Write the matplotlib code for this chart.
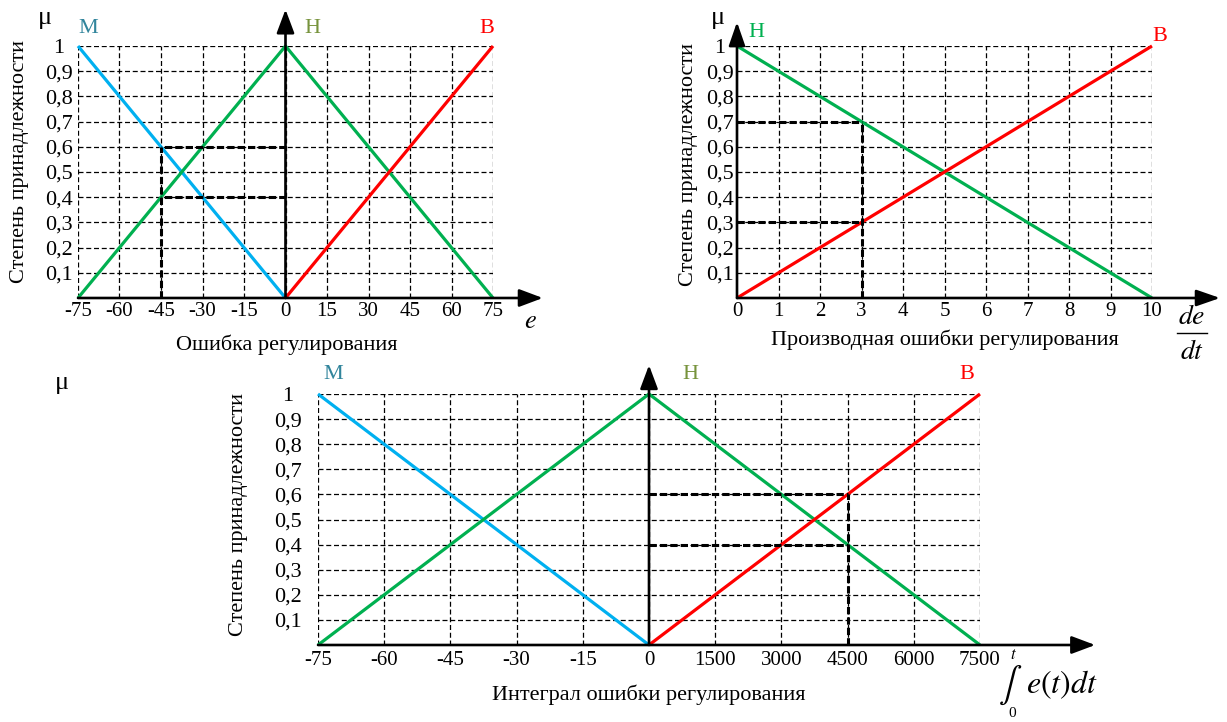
import numpy as np
import matplotlib
matplotlib.use("Agg")
from matplotlib import pyplot as plt

plt.rcParams['font.family'] = ['Liberation Serif', 'DejaVu Serif']
plt.rcParams['mathtext.fontset'] = 'stix'

BLUE = '#00b0f0'
GREEN = '#00b050'
RED = '#ff0000'
TEAL = '#31859c'
OLIVE = '#77933c'

# степень принадлежности
mu_ticks = [0.1, 0.2, 0.3, 0.4, 0.5, 0.6, 0.7, 0.8, 0.9, 1.0]
mu_labels = ['0,1', '0,2', '0,3', '0,4', '0,5', '0,6', '0,7', '0,8', '0,9', '1']

# ошибка регулирования e
e_ticks = [-75, -60, -45, -30, -15, 0, 15, 30, 45, 60, 75]
e_M = [-75, 0]
mu_e_M = [1, 0]
e_H = [-75, 0, 75]
mu_e_H = [0, 1, 0]
e_B = [0, 75]
mu_e_B = [0, 1]
e_probe = -45
e_levels = [0.6, 0.4]

# производная ошибки de/dt
de_ticks = [0, 1, 2, 3, 4, 5, 6, 7, 8, 9, 10]
de_H = [0, 10]
mu_de_H = [1, 0]
de_B = [0, 10]
mu_de_B = [0, 1]
de_probe = 3
de_levels = [0.7, 0.3]

# интеграл ошибки (разный масштаб слева и справа от нуля)
int_ticks = [-75, -60, -45, -30, -15, 0, 1500, 3000, 4500, 6000, 7500]
int_M = [-75, 0]
mu_int_M = [1, 0]
int_H = [-75, 0, 7500]
mu_int_H = [0, 1, 0]
int_B = [0, 7500]
mu_int_B = [0, 1]
int_probe = 4500
int_levels = [0.6, 0.4]

W, H = 1227, 722
fig = plt.figure(figsize=(W / 100, H / 100), dpi=100)

FS = 16


def px_axes(left, top, right, bottom):
    return fig.add_axes([left / W, 1 - bottom / H, (right - left) / W, (bottom - top) / H])


def to_u(x):
    x = np.asarray(x, dtype=float)
    return np.where(x <= 0, x / 15.0, x / 1500.0)


def frame(ax, xmin, xmax, grid_x, axis_x, tip_x, tip_y, xt, xtl, ypad, xpad, hw=0.27):
    ax.set_xlim(xmin, xmax)
    ax.set_ylim(0, 1)
    ax.set_frame_on(False)
    grid = dict(color='k', lw=0.9, linestyle=(0, (4, 2.2)), zorder=1)
    ax.vlines(grid_x, 0, 1, **grid)
    ax.hlines(mu_ticks, xmin, xmax, **grid)
    arrow = dict(arrowstyle=f'-|>,head_length=0.72,head_width={hw}', lw=1.9, color='k',
                 shrinkA=0, shrinkB=0, mutation_scale=20)
    ax.annotate('', xy=(tip_x, 0), xytext=(xmin, 0), arrowprops=arrow,
                annotation_clip=False, zorder=4)
    ax.annotate('', xy=(axis_x, tip_y), xytext=(axis_x, 0), arrowprops=arrow,
                annotation_clip=False, zorder=4)
    ax.set_yticks(mu_ticks)
    ax.set_yticklabels(mu_labels, fontsize=FS)
    for lab in ax.get_yticklabels():
        lab.set_ha('center')
    ax.set_xticks(xt)
    ax.set_xticklabels(xtl, fontsize=15)
    ax.tick_params(axis='y', length=0, pad=ypad)
    ax.tick_params(axis='x', length=0, pad=xpad)


def curve(ax, x, y, color):
    ax.plot(x, y, color=color, lw=2.3, clip_on=False, zorder=3, solid_capstyle='butt')


def probe(ax, x0, x1, levels):
    style = dict(color='k', lw=2.2, linestyle=(0, (2.4, 1.0)), zorder=5, clip_on=False)
    ax.plot([x1, x1], [0, max(levels)], **style)
    for lv in levels:
        ax.plot([x0, x1], [lv, lv], **style)


def note(ax, x, y, s, color='k', size=16, **kw):
    ax.text(x, y, s, color=color, fontsize=size, ha=kw.pop('ha', 'center'), va='center', **kw)


# --- Ошибка регулирования ---
ax1 = px_axes(78, 46, 493, 298)
frame(ax1, -75, 75, e_ticks, 0, 93, 1.145, e_ticks, [str(t) for t in e_ticks], 13.7, 3.0)
curve(ax1, e_M, mu_e_M, BLUE)
curve(ax1, e_H, mu_e_H, GREEN)
curve(ax1, e_B, mu_e_B, RED)
probe(ax1, 0, e_probe, e_levels)
note(ax1, -71.4, 1.07, 'M', TEAL)
note(ax1, 9.6, 1.07, 'H', OLIVE)
note(ax1, 72.8, 1.07, 'B', RED)
note(ax1, -87, 1.11, 'μ', size=19)
note(ax1, 88.4, -0.095, r'$e$', size=19)
note(ax1, 0.5, -0.187, 'Ошибка регулирования', size=FS)
note(ax1, -96, 0.54, 'Степень принадлежности', size=FS, rotation=90)

# --- Производная ошибки ---
ax2 = px_axes(737, 46, 1152, 298)
frame(ax2, 0, 10, de_ticks[1:], 0, 11.64, 1.095, de_ticks, [str(t) for t in de_ticks],
      12.2, 3.0, hw=0.25)
curve(ax2, de_H, mu_de_H, GREEN)
curve(ax2, de_B, mu_de_B, RED)
probe(ax2, 0, de_probe, de_levels)
note(ax2, 0.46, 1.052, 'H', GREEN)
note(ax2, 10.2, 1.036, 'B', RED)
note(ax2, -0.46, 1.11, 'μ', size=19)
note(ax2, 5.01, -0.167, 'Производная ошибки регулирования', size=FS)
note(ax2, 10.96, -0.078, r'$de$', size=20)
ax2.plot([10.6, 11.33], [-0.139, -0.139], color='k', lw=1.0, clip_on=False)
note(ax2, 10.96, -0.218, r'$dt$', size=20)
note(ax2, -1.17, 0.53, 'Степень принадлежности', size=FS, rotation=90)

# --- Интеграл ошибки ---
ax3 = px_axes(318, 394, 980, 645)
u_ticks = to_u(int_ticks)
frame(ax3, -5, 5, u_ticks, 0, 6.74, 1.115, u_ticks, [str(t) for t in int_ticks], 21.6, 4.5)
curve(ax3, to_u(int_M), mu_int_M, BLUE)
curve(ax3, to_u(int_H), mu_int_H, GREEN)
curve(ax3, to_u(int_B), mu_int_B, RED)
probe(ax3, 0, float(to_u(int_probe)), int_levels)
note(ax3, -4.77, 1.076, 'M', TEAL)
note(ax3, 0.62, 1.076, 'H', OLIVE)
note(ax3, 4.8, 1.076, 'B', RED)
note(ax3, -8.87, 1.044, 'μ', size=19)
note(ax3, 0.0, -0.199, 'Интеграл ошибки регулирования', size=FS)
note(ax3, -6.2, 0.52, 'Степень принадлежности', size=FS, rotation=90)
note(ax3, 5.45, -0.162, r'$\int$', size=25)
note(ax3, 5.5, -0.038, r'$t$', size=12)
note(ax3, 5.48, -0.272, '0', size=11)
note(ax3, 5.7, -0.158, r'$e(t)dt$', size=23, ha='left')

fig.savefig('out.png', dpi=100)
